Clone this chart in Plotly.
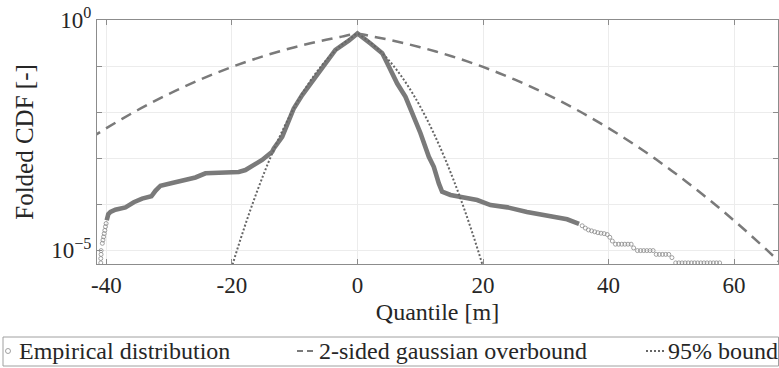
import plotly.graph_objects as go

# ---------------- data ----------------
# Empirical folded CDF, dense part (appears as thick line)
emp_x = [-39.95, -39.7, -39.35, -38.57, -36.97, -35.64, -34.31, -32.83, -32.19, -31.39,
         -29.53, -27.41, -25.82, -24.22, -20.51, -18.92, -17.85, -15.19, -13.59, -13.33,
         -12.0, -10.94, -10.15, -8.81, -6.69, -5.36, -4.30, -3.51, -1.39, 0.0,
         2.07, 3.94, 5.0, 6.33, 7.65, 8.97, 10.04, 11.37, 12.16, 12.96,
         13.49, 14.82, 16.41, 19.07, 21.2, 23.9, 27.0, 30.8, 33.4, 35.3]
emp_y = [4.47e-5, 6.03e-5, 6.76e-5, 7.59e-5, 8.51e-5, 1.10e-4, 1.32e-4, 1.48e-4, 1.95e-4, 2.51e-4,
         2.88e-4, 3.47e-4, 3.80e-4, 4.68e-4, 4.79e-4, 5.01e-4, 5.50e-4, 9.12e-4, 1.38e-3, 1.62e-3,
         2.88e-3, 6.76e-3, 1.20e-2, 2.34e-2, 5.89e-2, 9.77e-2, 0.158, 0.224, 0.355, 0.51,
         0.309, 0.191, 9.77e-2, 4.17e-2, 2.14e-2, 7.94e-3, 3.47e-3, 1.07e-3, 6.46e-4, 2.82e-4,
         1.86e-4, 1.58e-4, 1.41e-4, 1.23e-4, 9.55e-5, 8.51e-5, 6.76e-5, 5.25e-5, 4.68e-5, 3.72e-5]

# Empirical folded CDF, sparse tails (individual circles)
tail_x = [-40.05, -40.15, -40.25, -40.35, -40.45, -40.55, -40.65, -40.85, -40.85, -40.9, -40.9,
          35.8, 36.3, 36.8, 37.3, 37.8, 38.3, 38.8, 39.3, 39.8, 40.2, 40.6,
          41.1, 41.6, 42.1, 42.6, 43.1, 43.6, 44.0,
          44.6, 45.1, 45.6, 46.1, 46.6, 47.1,
          47.6, 48.1, 48.6, 49.1, 49.6, 50.1,
          50.7, 51.2, 51.7, 52.2, 52.7, 53.2, 53.7, 54.2, 54.7, 55.2, 55.7, 56.2, 56.7, 57.2, 57.7]
tail_y = [3.80e-5, 3.24e-5, 2.69e-5, 2.29e-5, 1.95e-5, 1.66e-5, 1.41e-5, 9.8e-6, 8.1e-6, 6.6e-6, 5.3e-6,
          3.39e-5, 3.02e-5, 2.75e-5, 2.63e-5, 2.51e-5, 2.40e-5, 2.34e-5, 2.29e-5, 2.19e-5, 1.91e-5, 1.58e-5,
          1.35e-5, 1.35e-5, 1.35e-5, 1.35e-5, 1.35e-5, 1.35e-5, 1.12e-5,
          9.8e-6, 9.8e-6, 9.8e-6, 9.8e-6, 9.8e-6, 9.8e-6,
          8.1e-6, 8.1e-6, 8.1e-6, 8.1e-6, 8.1e-6, 6.9e-6,
          5.3e-6, 5.3e-6, 5.3e-6, 5.3e-6, 5.3e-6, 5.3e-6, 5.3e-6, 5.3e-6, 5.3e-6, 5.3e-6,
          5.3e-6, 5.3e-6, 5.3e-6, 5.3e-6, 5.3e-6]

# 2-sided gaussian overbound (dashed)
ob_x = [-42.5, -40, -37.5, -35, -32.5, -30, -27.5, -25, -22.5, -20, -17.5, -15, -12.5, -10,
        -7.5, -5, -2.5, 0, 2.5, 5, 7.5, 10, 12.5, 15, 17.5, 20, 22.5, 25, 27.5, 30, 32.5,
        35, 37.5, 40, 42.5, 45, 47.5, 50, 52.5, 55, 57.5, 60, 62.5, 65, 67.5]
ob_y = [2.74e-3, 4.47e-3, 7.12e-3, 1.108e-2, 1.68e-2, 2.50e-2, 3.61e-2, 5.11e-2, 7.07e-2, 9.56e-2,
        0.1264, 0.1635, 0.2070, 0.2567, 0.3120, 0.3719, 0.4351, 0.5,
        0.4351, 0.3719, 0.3120, 0.2567, 0.2070, 0.1635, 0.1264, 9.56e-2, 7.07e-2, 5.11e-2,
        3.61e-2, 2.50e-2, 1.68e-2, 1.108e-2, 7.12e-3, 4.47e-3, 2.74e-3, 1.64e-3, 9.53e-4,
        5.41e-4, 3.00e-4, 1.62e-4, 8.56e-5, 4.40e-5, 2.20e-5, 1.08e-5, 5.13e-6]

# 95% bound (dotted)
b95_x = [-21, -20, -19, -18, -17, -16, -15, -14, -13, -12, -11, -10, -9, -8, -7, -6, -5, -4,
         -3, -2, -1, 0, 1, 2, 3, 4, 5, 6, 7, 8, 9, 10, 11, 12, 13, 14, 15, 16, 17, 18, 19, 20, 21]
b95_y = [1.53e-6, 4.41e-6, 1.21e-5, 3.17e-5, 7.91e-5, 1.89e-4, 4.29e-4, 9.32e-4, 1.93e-3,
         3.83e-3, 7.25e-3, 1.313e-2, 2.275e-2, 3.77e-2, 5.99e-2, 9.12e-2, 0.1333, 0.1870,
         0.2525, 0.3284, 0.4121, 0.5, 0.4121, 0.3284, 0.2525, 0.1870, 0.1333, 9.12e-2, 5.99e-2,
         3.77e-2, 2.275e-2, 1.313e-2, 7.25e-3, 3.83e-3, 1.93e-3, 9.32e-4, 4.29e-4, 1.89e-4,
         7.91e-5, 3.17e-5, 1.21e-5, 4.41e-6, 1.53e-6]

x_ticks = [-40, -20, 0, 20, 40, 60]
x_ticklabels = ["-40", "-20", "0", "20", "40", "60"]
y_ticks = [1e-5, 1e-4, 1e-3, 1e-2, 1e-1, 1]
y_ticklabels = ["10<sup>\u22125</sup>", "", "", "", "", "10<sup>0</sup>"]

legend_names = ["Empirical distribution", "2-sided gaussian overbound", "95% bound"]

# ---------------- styling / layout ----------------
FONT = "Liberation Serif, DejaVu Serif, serif"
TXT = "#262626"
GRAY = "#7a7a7a"
AX = "#8c8c8c"
W, H = 779, 368
L, R, T, B = 97, 1, 20, 104
PW, PH = W - L - R, H - T - B


def px_x(px):
    return (px - L) / PW


def px_y(py):
    return (H - B - py) / PH


fig = go.Figure()
fig.add_trace(go.Scatter(x=emp_x, y=emp_y, mode="lines", showlegend=False,
                         line=dict(color=GRAY, width=4.6), hoverinfo="skip"))
fig.add_trace(go.Scatter(x=tail_x, y=tail_y, mode="markers", name=legend_names[0], showlegend=False,
                         marker=dict(symbol="circle-open", size=4, color="#8a8a8a",
                                     line=dict(width=0.8, color="#8a8a8a"))))
fig.add_trace(go.Scatter(x=ob_x, y=ob_y, mode="lines", name=legend_names[1], showlegend=False,
                         line=dict(color=GRAY, width=2.5, dash="11px,7px", shape="spline")))
fig.add_trace(go.Scatter(x=b95_x, y=b95_y, mode="lines", name=legend_names[2], showlegend=False,
                         line=dict(color="#666666", width=2, dash="2px,2px", shape="spline")))

axis_common = dict(showline=True, linecolor=AX, linewidth=1, mirror="ticks",
                   ticks="inside", ticklen=5, tickcolor=AX, showgrid=True,
                   gridcolor="#ececec", gridwidth=1, zeroline=False,
                   tickfont=dict(family=FONT, size=23, color=TXT))

fig.update_xaxes(range=[-41.5, 67.0], tickvals=x_ticks, ticktext=x_ticklabels,
                 title=dict(text="Quantile [m]", font=dict(family=FONT, size=24, color=TXT),
                            standoff=6),
                 **axis_common)
fig.update_yaxes(type="log", range=[-5.3, 0], tickvals=y_ticks, ticktext=y_ticklabels,
                 title=dict(text="Folded CDF [-]", font=dict(family=FONT, size=25, color=TXT),
                            standoff=10),
                 **axis_common)

# ---- legend box (compact boxed legend as in the reference) ----
LEG_Y = 351
shapes = [
    dict(type="rect", xref="paper", yref="paper", x0=px_x(3), x1=px_x(778.5),
         y0=px_y(366), y1=px_y(337), line=dict(color="#a0a0a0", width=1), fillcolor="white",
         layer="below"),
    dict(type="circle", xref="paper", yref="paper", x0=px_x(5.5), x1=px_x(10.5),
         y0=px_y(LEG_Y + 2.5), y1=px_y(LEG_Y - 2.5), line=dict(color="#8a8a8a", width=0.8)),
    dict(type="line", xref="paper", yref="paper", x0=px_x(297), x1=px_x(314),
         y0=px_y(LEG_Y), y1=px_y(LEG_Y), line=dict(color=GRAY, width=1.8, dash="6px,4px")),
    dict(type="line", xref="paper", yref="paper", x0=px_x(646), x1=px_x(664),
         y0=px_y(LEG_Y), y1=px_y(LEG_Y), line=dict(color="#666666", width=1.8, dash="2px,2px")),
]
legend_text_px = [17, 317, 666]
annotations = [
    dict(text=name, xref="paper", yref="paper", x=px_x(xp), y=px_y(LEG_Y),
         xanchor="left", yanchor="middle", showarrow=False,
         font=dict(family=FONT, size=24, color=TXT))
    for name, xp in zip(legend_names, legend_text_px)
]

fig.update_layout(
    width=W, height=H,
    margin=dict(l=L, r=R, t=T, b=B, autoexpand=False),
    paper_bgcolor="white", plot_bgcolor="white",
    font=dict(family=FONT, color=TXT),
    showlegend=False,
    shapes=shapes,
    annotations=annotations,
)

fig.write_html("out.html")
